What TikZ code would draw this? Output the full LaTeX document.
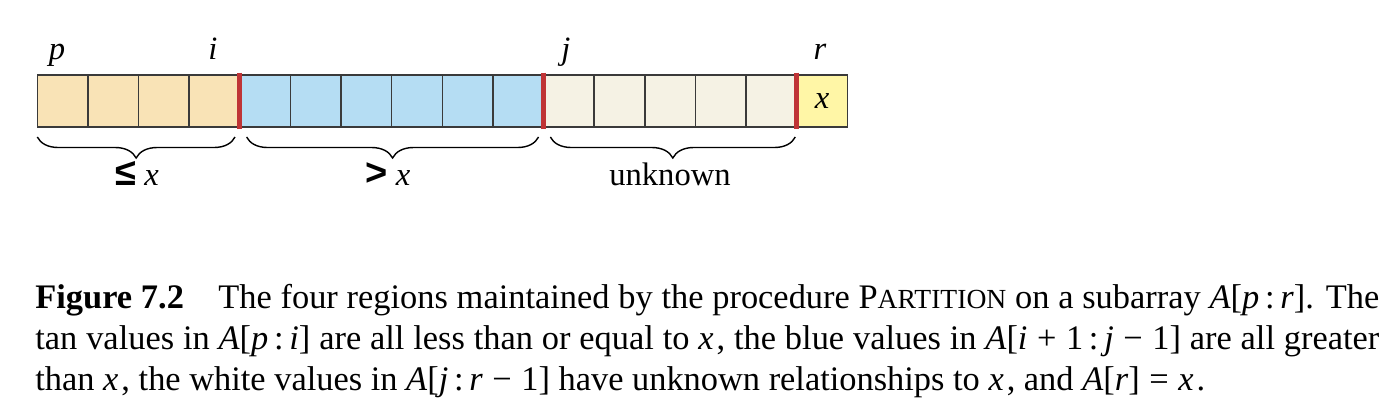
\documentclass[tikz,border=0pt]{standalone}
\usepackage{fontspec}
\setmainfont{Liberation Serif}
\newfontfamily\symfont{Liberation Sans}
\usetikzlibrary{decorations.pathreplacing}
\definecolor{tanfill}{HTML}{F9E3B6}
\definecolor{bluefill}{HTML}{B5DDF3}
\definecolor{unkfill}{HTML}{F5F2E4}
\definecolor{pivfill}{HTML}{FFF6A6}
\definecolor{barred}{HTML}{BF3436}
\definecolor{edgegray}{HTML}{3A3A3A}
\newcommand{\mi}[1]{\textit{#1}}
\newcommand{\smcap}[1]{{\fontsize{13.8}{14}\selectfont #1}}
\newcommand{\bsym}[1]{{\symfont\bfseries\fontsize{19}{20}\selectfont #1}}
\begin{document}
\begin{tikzpicture}[x=0.5pt,y=-0.5pt,
  cell/.style={draw=edgegray, line width=0.8pt, minimum width=25.3125pt, minimum height=25.85pt, inner sep=0pt, outer sep=0pt},
  divider/.style={draw=barred, line width=2.6pt},
  brace/.style={decorate, decoration={brace, mirror, amplitude=10.5pt}, line width=0.7pt},
  idx/.style={font=\fontsize{16.3}{18}\selectfont\itshape, anchor=base, inner sep=0pt},
  lbl/.style={font=\fontsize{16.3}{18}\selectfont, anchor=base, inner sep=0pt},
  captxt/.style={font=\fontsize{17.2}{19}\selectfont, anchor=base west, inner sep=0pt}]
\useasboundingbox (0,0) rectangle (1388,414);
\foreach \k in {0,...,15}{
  \ifnum\k<4 \def\fc{tanfill}\else\ifnum\k<10 \def\fc{bluefill}\else\ifnum\k<15 \def\fc{unkfill}\else\def\fc{pivfill}\fi\fi\fi
  \node[cell, fill=\fc] (c\k) at ({37.3+50.625*(\k+0.5)}, 100.85) {};
}
\node[font=\fontsize{16.3}{18}\selectfont\itshape, inner sep=0pt] (xval) at (c15.center) {x};
\foreach \k in {3,9,14}{
  \draw[divider] ([yshift=1.2pt]c\k.north east) -- ([yshift=-1.2pt]c\k.south east);
}
% index labels
\node[idx] (lp) at (57,59) {p};
\node[idx] (li) at (213,59) {i};
\node[idx] (lj) at (566,59) {j};
\node[idx] (lr) at (820,59) {r};
% braces
\draw[brace] ([yshift=-5.15pt]c0.south west) -- ([xshift=-2.4pt,yshift=-5.15pt]c3.south east);
\draw[brace] ([xshift=3.4pt,yshift=-5.15pt]c4.south west) -- ([xshift=-2.5pt,yshift=-5.15pt]c9.south east);
\draw[brace] ([xshift=3.4pt,yshift=-5.15pt]c10.south west) -- ([xshift=-0.7pt,yshift=-5.15pt]c14.south east);
\node[lbl] (le) at (137,185) {\bsym{≤} \mi{x}};
\node[lbl] (gt) at (388,185) {\bsym{>} \mi{x}};
\node[lbl] (unk) at (670,185) {unknown};
% caption
\node[captxt] (cap1) at (35,308) {\makebox[672pt][s]{\textbf{Figure 7.2}\hspace{1em}The four regions maintained by the procedure P\smcap{ARTITION} on a subarray \mi{A}[\mi{p}\,:\,\mi{r}]. The}};
\node[captxt] (cap2) at (35,349) {\makebox[672pt][s]{tan values in \mi{A}[\mi{p}\,:\,\mi{i}] are all less than or equal to \mi{x}\kern1.5pt, the blue values in \mi{A}[\mi{i}\;+\;1\,:\,\mi{j}\;−\;1] are all greater}};
\node[captxt] (cap3) at (35,390) {than \mi{x}\kern1.5pt, the white values in \mi{A}[\mi{j}\,:\,\mi{r}\;−\;1] have unknown relationships to \mi{x}\kern1.5pt, and \mi{A}[\mi{r}]\;=\;\mi{x}\kern1.5pt.};
\end{tikzpicture}
\end{document}
